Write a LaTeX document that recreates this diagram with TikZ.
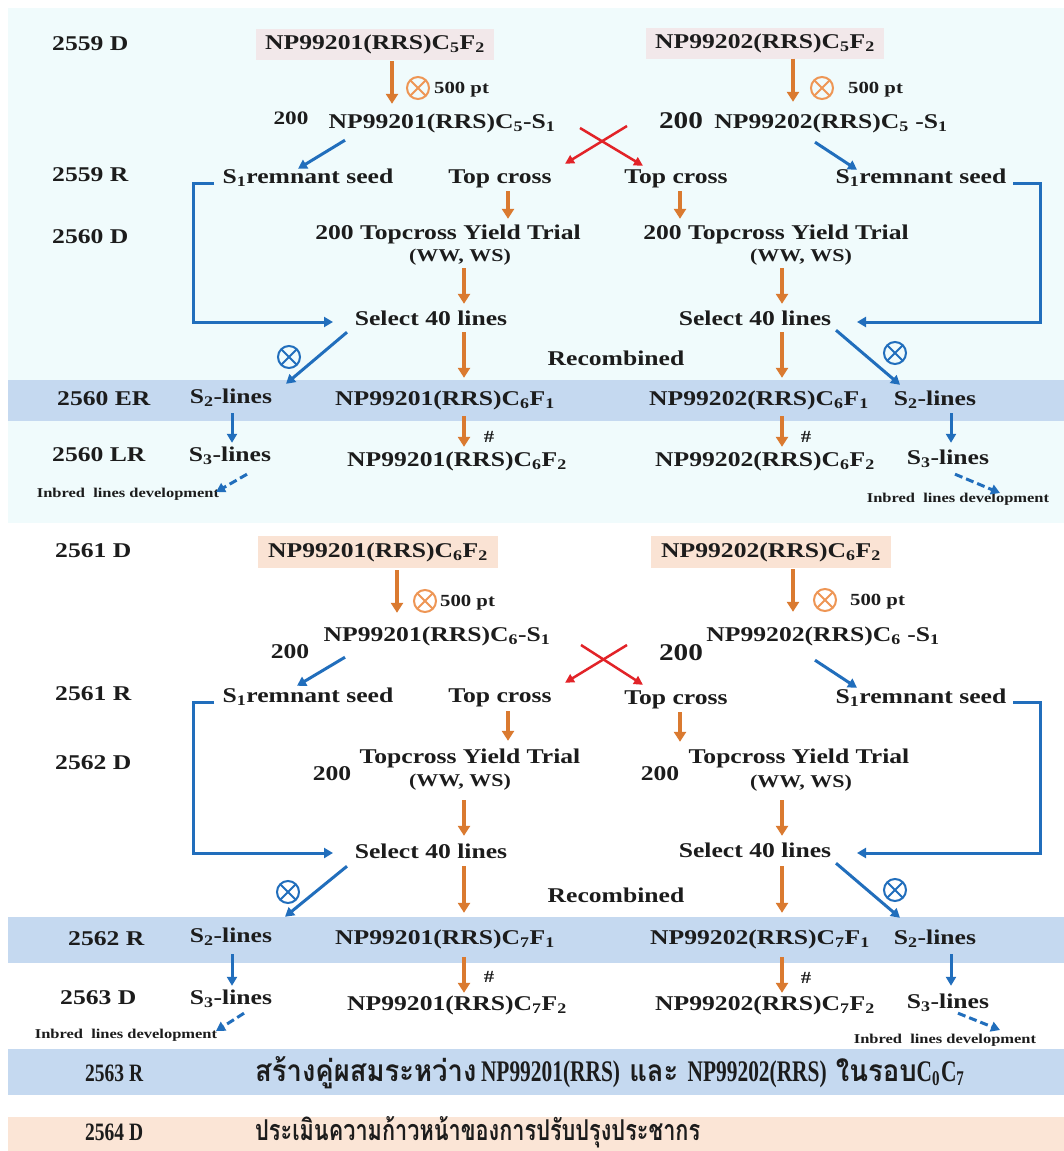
\documentclass[tikz,border=0pt]{standalone}
\usepackage{fontspec}
\setmainfont[FakeStretch=1.22]{Liberation Serif}
\newfontfamily\thaifont[Script=Thai]{Loma}
\newfontfamily\condserif[FakeStretch=0.78]{Liberation Serif}
\usetikzlibrary{arrows.meta}
\definecolor{ink}{RGB}{28,28,28}
\definecolor{cyanbg}{RGB}{240,251,252}
\definecolor{bandblue}{RGB}{197,217,240}
\definecolor{peach}{RGB}{251,229,214}
\definecolor{boxpink}{RGB}{242,232,234}
\definecolor{boxpeach}{RGB}{250,227,212}
\definecolor{orc}{RGB}{218,122,48}
\definecolor{orlight}{RGB}{238,150,85}
\definecolor{blc}{RGB}{33,110,188}
\definecolor{rdc}{RGB}{226,35,40}
\newcommand{\sbs}[1]{\textsubscript{#1}}
\begin{document}
\begin{tikzpicture}[x=1pt,y=-1pt,
  lb/.style={font=\bfseries\fontsize{#1}{#1}\selectfont, text=ink, inner sep=0pt, text height=15pt, text depth=4pt},
  lb/.default=21,
  boxnode/.style={lb, fill=#1, minimum width=238pt, minimum height=31pt},
  otimes/.style={circle, draw=#1, line width=2pt, minimum size=22pt, inner sep=0pt,
    path picture={\draw[#1, line width=2pt] (path picture bounding box.north west) -- (path picture bounding box.south east)
      (path picture bounding box.north east) -- (path picture bounding box.south west);}},
  oarr/.style={draw=orc, line width=4.5pt, -{Triangle[width=12pt,length=10pt]}},
  barr/.style={draw=blc, line width=3pt, -{Triangle[width=10pt,length=9pt]}},
  rarr/.style={draw=rdc, line width=2.5pt, -{Triangle[width=9pt,length=9pt]}},
  darr/.style={barr, dash pattern=on 8pt off 4pt},
  thailine/.style={anchor=base west, inner sep=0pt, text=ink},
  thlab/.style={anchor=base west, inner sep=0pt, text=ink, font=\condserif\bfseries\fontsize{25}{25}\selectfont}
]
\useasboundingbox (0,0) rectangle (1064,1151);
% backgrounds
\fill[white] (0,0) rectangle (1064,1151);
\fill[cyanbg] (8,8) rectangle (1064,523);
\fill[bandblue] (8,380) rectangle (1064,421);
\fill[bandblue] (8,917) rectangle (1064,963);
\fill[bandblue] (8,1049) rectangle (1064,1095);
\fill[peach] (8,1117) rectangle (1064,1151);

% ---------------- Section 1 ----------------
\node[lb, anchor=west] (y1) at (52,45) {2559 D};
\node[lb, anchor=west] (y2) at (52,176) {2559 R};
\node[lb, anchor=west] (y3) at (52,238) {2560 D};
\node[lb, anchor=west] (y4) at (57,400) {2560 ER};
\node[lb, anchor=west] (y5) at (52,456) {2560 LR};

\node[boxnode=boxpink] (box1) at (375,44) {NP99201(RRS)C\sbs{5}F\sbs{2}};
\node[boxnode=boxpink] (box2) at (765,43) {NP99202(RRS)C\sbs{5}F\sbs{2}};
\node[otimes=orlight] (ox1) at (418,88) {};
\node[lb=17, anchor=west] (pt1) at (434,88) {500 pt};
\node[otimes=orlight] (ox2) at (822,88) {};
\node[lb=17, anchor=west] (pt2) at (848,88) {500 pt};

\node[lb=19] (n200a) at (291,119) {200};
\node[lb] (s1L) at (442,123) {NP99201(RRS)C\sbs{5}-S\sbs{1}};
\node[lb=24] (n200b) at (681,123) {200};
\node[lb] (s1R) at (831,123) {NP99202(RRS)C\sbs{5} -S\sbs{1}};

\node[lb] (remL) at (308,178) {S\sbs{1}remnant seed};
\node[lb] (tcL) at (500,178) {Top cross};
\node[lb] (tcR) at (676,178) {Top cross};
\node[lb] (remR) at (921,178) {S\sbs{1}remnant seed};

\node[lb] (ytL) at (448,234) {200 Topcross Yield Trial};
\node[lb] (ytR) at (776,234) {200 Topcross Yield Trial};
\node[lb=18] (wwL) at (460,256) {(WW, WS)};
\node[lb=18] (wwR) at (801,256) {(WW, WS)};

\node[lb] (selL) at (431,320) {Select 40 lines};
\node[lb] (selR) at (755,320) {Select 40 lines};
\node[lb] (rec1) at (616,360) {Recombined};
\node[otimes=blc] (bx1) at (289,357) {};
\node[otimes=blc] (bx2) at (895,353) {};

\node[lb] (s2L) at (231,398) {S\sbs{2}-lines};
\node[lb] (f1L) at (445,400) {NP99201(RRS)C\sbs{6}F\sbs{1}};
\node[lb] (f1R) at (759,400) {NP99202(RRS)C\sbs{6}F\sbs{1}};
\node[lb] (s2R) at (935,400) {S\sbs{2}-lines};

\node[lb=17] (hL) at (489,437) {\#};
\node[lb=17] (hR) at (806,437) {\#};

\node[lb] (s3L) at (230,456) {S\sbs{3}-lines};
\node[lb] (f2L) at (457,461) {NP99201(RRS)C\sbs{6}F\sbs{2}};
\node[lb] (f2R) at (765,461) {NP99202(RRS)C\sbs{6}F\sbs{2}};
\node[lb] (s3R) at (948,459) {S\sbs{3}-lines};
\node[lb=13.5] (inbL) at (128,492) {Inbred\ \ lines development};
\node[lb=13.5] (inbR) at (958,497) {Inbred\ \ lines development};

% connectors section 1
\draw[oarr] ([shift={(17,1.5)}]box1.south) -- ([shift={(-50,-9.5)}]s1L.north);
\draw[oarr] ([shift={(28,0)}]box2.south) -- ([shift={(-38,-11.5)}]s1R.north);
\draw[rarr] ([shift={(138,5)}]s1L.center) -- ([shift={(-33,-2.5)}]tcR.north);
\draw[rarr] ([shift={(-204,3)}]s1R.center) -- ([shift={(65,-4.5)}]tcL.north);
\draw[barr] ([shift={(-97,7.5)}]s1L.south) -- ([shift={(-10,0.5)}]remL.north);
\draw[barr] ([shift={(-16,9.5)}]s1R.south) -- ([shift={(-64,1.5)}]remR.north);
\draw[oarr] ([shift={(8,3.5)}]tcL.south) -- ([shift={(60,-5.5)}]ytL.north);
\draw[oarr] ([shift={(4,3.5)}]tcR.south) -- ([shift={(-96,-5.5)}]ytR.north);
\draw[oarr] ([shift={(4,2.5)}]wwL.south) -- ([shift={(33,-6.5)}]selL.north);
\draw[oarr] ([shift={(-19,2.5)}]wwR.south) -- ([shift={(27,-6.5)}]selR.north);
\draw[barr] ([shift={(-94,5)}]remL.center) -- ++(-21,0) |- ([shift={(-98,2)}]selL.center);
\draw[barr] ([shift={(92,5)}]remR.center) -- ++(27,0) |- ([shift={(102,2)}]selR.center);
\draw[barr] ([shift={(-84,2.5)}]selL.south) -- ([shift={(55,-4.5)}]s2L.north);
\draw[barr] ([shift={(81,0.5)}]selR.south) -- ([shift={(-35,-5.5)}]s2R.north);
\draw[oarr] ([shift={(33,2.5)}]selL.south) -- ([shift={(19,-12.5)}]f1L.north);
\draw[oarr] ([shift={(27,2.5)}]selR.south) -- ([shift={(23,-12.5)}]f1R.north);
\draw[barr] ([shift={(1,5.5)}]s2L.south) -- ([shift={(2,-3.5)}]s3L.north);
\draw[barr] ([shift={(16,3.5)}]s2R.south) -- ([shift={(3,-6.5)}]s3R.north);
\draw[oarr] ([shift={(19,6.5)}]f1L.south) -- ([shift={(7,-4.5)}]f2L.north);
\draw[oarr] ([shift={(23,6.5)}]f1R.south) -- ([shift={(17,-4.5)}]f2R.north);
\draw[darr] ([shift={(17,8.5)}]s3L.south) -- ([shift={(88,0)}]inbL.center);
\draw[darr] ([shift={(7,5.5)}]s3R.south) -- ([shift={(42,-4)}]inbR.center);

% ---------------- Section 2 ----------------
\node[lb, anchor=west] (z1) at (55,552) {2561 D};
\node[lb, anchor=west] (z2) at (55,695) {2561 R};
\node[lb, anchor=west] (z3) at (55,764) {2562 D};
\node[lb, anchor=west] (z4) at (68,940) {2562 R};
\node[lb, anchor=west] (z5) at (60,999) {2563 D};

\node[boxnode=boxpeach, minimum width=240pt, minimum height=32pt] (box3) at (378,552) {NP99201(RRS)C\sbs{6}F\sbs{2}};
\node[boxnode=boxpeach, minimum width=240pt, minimum height=32pt] (box4) at (771,552) {NP99202(RRS)C\sbs{6}F\sbs{2}};
\node[otimes=orlight] (ox3) at (425,601) {};
\node[lb=17, anchor=west] (pt3) at (440,601) {500 pt};
\node[otimes=orlight] (ox4) at (825,600) {};
\node[lb=17, anchor=west] (pt4) at (850,600) {500 pt};

\node[lb] (t1L) at (437,636) {NP99201(RRS)C\sbs{6}-S\sbs{1}};
\node[lb] (n200c) at (290,653) {200};
\node[lb] (t1R) at (823,636) {NP99202(RRS)C\sbs{6} -S\sbs{1}};
\node[lb=24] (n200d) at (681,655) {200};

\node[lb] (remL2) at (308,697) {S\sbs{1}remnant seed};
\node[lb] (tcL2) at (500,697) {Top cross};
\node[lb] (tcR2) at (676,699) {Top cross};
\node[lb] (remR2) at (921,698) {S\sbs{1}remnant seed};

\node[lb] (ytL2) at (470,758) {Topcross Yield Trial};
\node[lb] (n200e) at (332,775) {200};
\node[lb=18] (wwL2) at (460,781) {(WW, WS)};
\node[lb] (ytR2) at (799,758) {Topcross Yield Trial};
\node[lb] (n200f) at (660,775) {200};
\node[lb=18] (wwR2) at (801,782) {(WW, WS)};

\node[lb] (selL2) at (431,853) {Select 40 lines};
\node[lb] (selR2) at (755,852) {Select 40 lines};
\node[lb] (rec2) at (616,897) {Recombined};
\node[otimes=blc] (bx3) at (288,892) {};
\node[otimes=blc] (bx4) at (895,890) {};

\node[lb] (s2L2) at (231,937) {S\sbs{2}-lines};
\node[lb] (g1L) at (445,939) {NP99201(RRS)C\sbs{7}F\sbs{1}};
\node[lb] (g1R) at (760,939) {NP99202(RRS)C\sbs{7}F\sbs{1}};
\node[lb] (s2R2) at (935,939) {S\sbs{2}-lines};

\node[lb=17] (hL2) at (489,977) {\#};
\node[lb=17] (hR2) at (806,978) {\#};

\node[lb] (s3L2) at (231,999) {S\sbs{3}-lines};
\node[lb] (g2L) at (457,1005) {NP99201(RRS)C\sbs{7}F\sbs{2}};
\node[lb] (g2R) at (765,1005) {NP99202(RRS)C\sbs{7}F\sbs{2}};
\node[lb] (s3R2) at (948,1003) {S\sbs{3}-lines};
\node[lb=13.5] (inbL2) at (126,1033) {Inbred\ \ lines development};
\node[lb=13.5] (inbR2) at (945,1038) {Inbred\ \ lines development};

% connectors section 2
\draw[oarr] ([shift={(19,2)}]box3.south) -- ([shift={(-40,-13.5)}]t1L.north);
\draw[oarr] ([shift={(22,1)}]box4.south) -- ([shift={(-30,-14.5)}]t1R.north);
\draw[rarr] ([shift={(144,9)}]t1L.center) -- ([shift={(-33,-4.5)}]tcR2.north);
\draw[rarr] ([shift={(-196,9)}]t1R.center) -- ([shift={(65,-4.5)}]tcL2.north);
\draw[barr] ([shift={(-92,11.5)}]t1L.south) -- ([shift={(-11,-1.5)}]remL2.north);
\draw[barr] ([shift={(-8,14.5)}]t1R.south) -- ([shift={(-64,-0.5)}]remR2.north);
\draw[oarr] ([shift={(8,4.5)}]tcL2.south) -- ([shift={(38,-7.5)}]ytL2.north);
\draw[oarr] ([shift={(4,3.5)}]tcR2.south) -- ([shift={(-119,-6.5)}]ytR2.north);
\draw[oarr] ([shift={(4,9.5)}]wwL2.south) -- ([shift={(33,-7.5)}]selL2.north);
\draw[oarr] ([shift={(-19,8.5)}]wwR2.south) -- ([shift={(27,-6.5)}]selR2.north);
\draw[barr] ([shift={(-94,5)}]remL2.center) -- ++(-21,0) |- ([shift={(-98,0)}]selL2.center);
\draw[barr] ([shift={(92,4)}]remR2.center) -- ++(27,0) |- ([shift={(102,1)}]selR2.center);
\draw[barr] ([shift={(-84,3.5)}]selL2.south) -- ([shift={(54,-10.5)}]s2L2.north);
\draw[barr] ([shift={(81,1.5)}]selR2.south) -- ([shift={(-35,-11.5)}]s2R2.north);
\draw[oarr] ([shift={(33,3.5)}]selL2.south) -- ([shift={(19,-16.5)}]g1L.north);
\draw[oarr] ([shift={(27,4.5)}]selR2.south) -- ([shift={(22,-16.5)}]g1R.north);
\draw[barr] ([shift={(1,7.5)}]s2L2.south) -- ([shift={(1,-3.5)}]s3L2.north);
\draw[barr] ([shift={(16,5.5)}]s2R2.south) -- ([shift={(3,-7.5)}]s3R2.north);
\draw[oarr] ([shift={(19,8.5)}]g1L.south) -- ([shift={(7,-2.5)}]g2L.north);
\draw[oarr] ([shift={(22,8.5)}]g1R.south) -- ([shift={(17,-2.5)}]g2R.north);
\draw[darr] ([shift={(13,4.5)}]s3L2.south) -- ([shift={(90,-2)}]inbL2.center);
\draw[darr] ([shift={(10,0.5)}]s3R2.south) -- ([shift={(55,-8)}]inbR2.center);

% ---------------- bottom bands ----------------
\node[thlab] (w1) at (85,1081) {2563 R};
\node[thailine] (thai1) at (255,1081) {\resizebox{710pt}{25pt}{\thaifont\bfseries สร้างคู่ผสมระหว่าง\,{\condserif\bfseries NP99201(RRS)} และ {\condserif\bfseries NP99202(RRS)} ในรอบ{\condserif\bfseries C\sbs{0}C\sbs{7}}}};
\node[thlab] (w2) at (85,1140) {2564 D};
\node[thailine] (thai2) at (255,1140) {\resizebox{445pt}{24pt}{\thaifont\bfseries ประเมินความก้าวหน้าของการปรับปรุงประชากร}};
\end{tikzpicture}
\end{document}
